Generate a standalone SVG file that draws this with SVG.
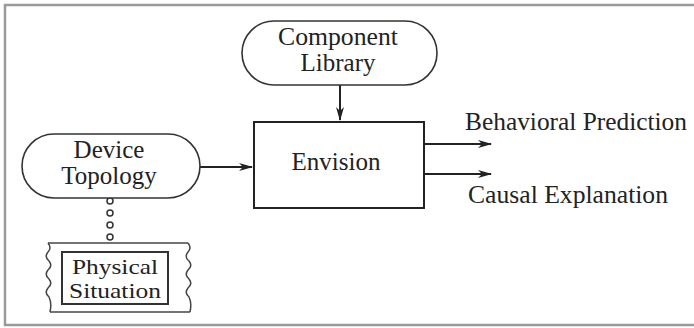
<svg xmlns="http://www.w3.org/2000/svg" width="694" height="328" viewBox="0 0 694 328">
<defs>
<marker id="arr" markerUnits="userSpaceOnUse" markerWidth="14" markerHeight="10" refX="13" refY="5" orient="auto">
<path d="M0,1 L14,5 L0,9 L4,5 Z" fill="#222"/>
</marker>
<style>
text{font-family:"Liberation Serif","Times New Roman",serif;font-size:25px;fill:#222;text-anchor:middle}
.sm{font-size:22px}
.ln{stroke:#222;stroke-width:2;fill:none}
.pill{stroke:#333;stroke-width:1.6;fill:#fff}
.box{stroke:#222;stroke-width:2;fill:#fff}
.dot{stroke:#333;stroke-width:1.5;fill:#fff}
.edge{stroke:#444;stroke-width:1.5;fill:none}
</style>
</defs>
<rect x="5" y="5" width="692" height="320" fill="#fff" stroke="#9a9a9a" stroke-width="2.5"/>
<g id="connectors">
<line class="ln" x1="340" y1="85" x2="340" y2="120" marker-end="url(#arr)"/>
<line class="ln" x1="200" y1="167" x2="252" y2="167" marker-end="url(#arr)"/>
<line class="ln" x1="424" y1="144" x2="491" y2="144" marker-end="url(#arr)"/>
<line class="ln" x1="424" y1="174" x2="491" y2="174" marker-end="url(#arr)"/>
<circle class="dot" cx="110" cy="201" r="3"/>
<circle class="dot" cx="110" cy="213" r="3"/>
<circle class="dot" cx="110" cy="225" r="3"/>
<circle class="dot" cx="110" cy="237" r="3"/>
</g>
<g id="component-library">
<rect class="pill" x="242" y="21" width="195" height="64" rx="32" ry="32"/>
<text x="338" y="45" textLength="120" lengthAdjust="spacingAndGlyphs">Component</text>
<text x="338" y="71">Library</text>
</g>
<g id="device-topology">
<rect class="pill" x="22" y="134" width="178" height="64" rx="32" ry="32"/>
<text x="109" y="158">Device</text>
<text x="109" y="184">Topology</text>
</g>
<g id="envision">
<rect class="box" x="254" y="122" width="170" height="86"/>
<text x="336" y="170">Envision</text>
</g>
<g id="physical-situation">
<path class="edge" d="M48,243 L188,243"/>
<path class="edge" d="M50,312 L190,312"/>
<path class="edge" d="M48,243 q4,5 0,9 q-4,5 1,9 q4,5 -1,9 q-4,5 1,9 q4,5 -1,9 q-4,5 1,9 q3,6 1,15"/>
<path class="edge" d="M188,243 q4,5 0,9 q-4,5 1,9 q4,5 -1,9 q-4,5 1,9 q4,5 -1,9 q-4,5 1,9 q3,6 1,15"/>
<rect x="62" y="252" width="106" height="52" fill="#fff" stroke="#333" stroke-width="2"/>
<text class="sm" x="115" y="274" textLength="86" lengthAdjust="spacingAndGlyphs">Physical</text>
<text class="sm" x="115" y="298" textLength="92" lengthAdjust="spacingAndGlyphs">Situation</text>
</g>
<g id="outputs">
<text x="576" y="130" textLength="222" lengthAdjust="spacingAndGlyphs">Behavioral Prediction</text>
<text x="568" y="203" textLength="200" lengthAdjust="spacingAndGlyphs">Causal Explanation</text>
</g>
</svg>
